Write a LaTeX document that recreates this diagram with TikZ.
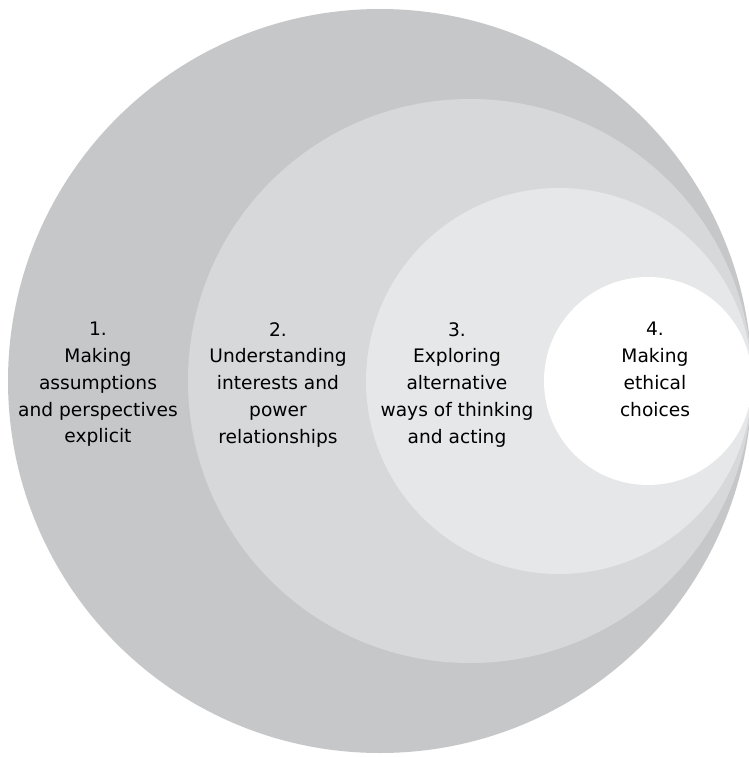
\documentclass[tikz,border=0pt]{standalone}
\usepackage{fontspec}
\setmainfont{DejaVu Sans}
\usepackage{tikz}
\usetikzlibrary{positioning}

\definecolor{ringone}{RGB}{198,199,200}
\definecolor{ringtwo}{RGB}{215,216,217}
\definecolor{ringthree}{RGB}{230,231,232}

\tikzset{
    steptext/.style={align=center, anchor=north, inner sep=0pt,
        font=\fontsize{10.6}{15.2}\selectfont, text=black}
}

\begin{document}
\begin{tikzpicture}[x=0.02cm, y=0.02cm]
        \useasboundingbox (0, 0) rectangle (749, -757);

        % nested circles, all touching on the right
        \fill[ringone] (380, -381) circle [radius=372];
        \fill[ringtwo] (470, -381) circle [radius=282];
        \fill[ringthree] (559, -381) circle [radius=193];
        \fill[white] (648, -381) circle [radius=104];

        \node[steptext] (one) at (98, -322) {1.\\Making\\assumptions\\and perspectives\\explicit};

        \node[steptext] (two) at (278, -322) {2.\\Understanding\\interests and\\power\\relationships};

        \node[steptext] (three) at (457, -322) {3.\\Exploring\\alternative\\ways of thinking\\and acting};

        \node[steptext] (four) at (655, -322) {4.\\Making\\ethical\\choices};

    \end{tikzpicture}
\end{document}
